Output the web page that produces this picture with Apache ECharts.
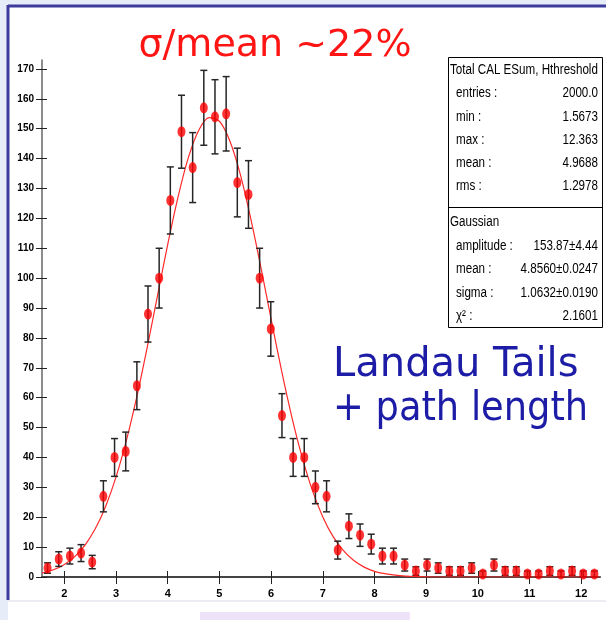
<!DOCTYPE html>
<html>
<head>
<meta charset="utf-8">
<script src="https://cdn.jsdelivr.net/npm/echarts@6/dist/echarts.min.js"></script>
<style>
html,body{margin:0;padding:0;background:#fff;}
#chart{width:606px;height:620px;}
</style>
</head>
<body>
<div id="chart"></div>
<script>
// Histogram bin centres (50 bins from 1.5673 to 12.363)
var binCenters = [1.675,1.891,2.107,2.323,2.539,2.755,2.971,3.187,3.403,3.618,
  3.834,4.050,4.266,4.482,4.698,4.914,5.130,5.346,5.562,5.778,
  5.994,6.210,6.426,6.641,6.857,7.073,7.289,7.505,7.721,7.937,
  8.153,8.369,8.585,8.801,9.017,9.232,9.448,9.664,9.880,10.096,
  10.312,10.528,10.744,10.960,11.176,11.392,11.608,11.823,12.039,12.255];
// Entries per bin
var binCounts = [3,6,7,8,5,27,40,42,64,88,
  100,126,149,137,157,154,155,132,128,100,
  83,54,40,40,30,27,9,17,14,11,
  7,7,4,2,4,3,2,2,3,1,
  4,2,2,1,1,2,1,2,1,1];
// Gaussian fit curve
var fitX = [1.5673,1.8,2.0,2.2,2.4,2.6,2.8,3.0,3.2,3.4,3.6,3.8,4.0,4.2,4.4,4.6,4.8,5.0,5.2,5.4,5.6,5.8,6.0,6.2,6.4,6.6,6.8,7.0,7.2,7.4,7.6,7.8,8.0,8.2,8.4,8.6,8.8,9.2,10.0,11.0,12.363];
var fitY = [1.3,2.5,4.2,6.8,10.7,16.2,23.7,33.5,45.7,60.2,76.6,94.0,111.3,127.2,140.4,149.5,153.7,152.5,146.0,135.0,120.4,103.8,86.3,69.2,53.6,40.1,28.9,20.1,13.5,8.8,5.5,3.3,1.9,1.1,0.6,0.3,0.15,0.0,0.0,0.0,0.0];
var xTicks = [2,3,4,5,6,7,8,9,10,11,12];
var yTicks = [0,10,20,30,40,50,60,70,80,90,100,110,120,130,140,150,160,170];
var xRange = [1.5673, 12.363];
var yRange = [0, 173];

var statTitle = 'Total CAL ESum, Hthreshold';
var statLabels = ['entries :','min :','max :','mean :','rms :'];
var statValues = ['2000.0','1.5673','12.363','4.9688','1.2978'];
var fitTitle = 'Gaussian';
var fitLabels = ['amplitude :','mean :','sigma :','\u03c7\u00b2 :'];
var fitValues = ['153.87\u00b14.44','4.8560\u00b10.0247','1.0632\u00b10.0190','2.1601'];

var titleText = '\u03c3/mean ~22%';
var noteLines = ['Landau Tails', '+ path length'];

var points = binCenters.map(function(x,i){return [x, binCounts[i]];});
var curve = fitX.map(function(x,i){return [x, fitY[i]];});

var chart = echarts.init(document.getElementById('chart'), null, {renderer:'canvas'});
var axFamily = '"Liberation Sans", Arial, sans-serif';
var statFont = '14px "Liberation Sans", Arial, sans-serif';
var sx = 0.83;

function stext(t, x, y, align){
  return {type:'text', z:62, x:x, y:y, scaleX:sx, scaleY:1,
    style:{text:t, x:0, y:0, textAlign:align || 'left', textVerticalAlign:'middle', fill:'#000', font:statFont}};
}

var graphics = [
  {type:'rect', z:-10, silent:true, shape:{x:0,y:0,width:606,height:620}, style:{fill:'#e6ecf8'}},
  {type:'rect', z:-9, silent:true, shape:{x:8,y:6,width:598,height:614}, style:{fill:'#ffffff'}},
  {type:'rect', z:-8, silent:true, shape:{x:200,y:612,width:210,height:8}, style:{fill:'#ede2f8'}},
  {type:'line', z:-8, silent:true, shape:{x1:8,y1:601,x2:606,y2:601}, style:{stroke:'#d8d8e4', lineWidth:1}},
  {type:'line', z:-7, silent:true, shape:{x1:8,y1:6,x2:606,y2:6}, style:{stroke:'#3c3c9c', lineWidth:3}},
  {type:'line', z:-7, silent:true, shape:{x1:8,y1:5,x2:8,y2:600}, style:{stroke:'#3c3c9c', lineWidth:3}},
  {type:'text', z:50, style:{text:titleText, x:275, y:65, textAlign:'center', textVerticalAlign:'bottom', fill:'#ff1414', font:'38px "DejaVu Sans"'}},
  {type:'text', z:50, style:{text:noteLines[0], x:333, y:346, textAlign:'left', textVerticalAlign:'top', fill:'#1c1ca6', font:'40px "DejaVu Sans"'}},
  {type:'text', z:50, x:333, y:390, scaleX:0.92, style:{text:noteLines[1], x:0, y:0, textAlign:'left', textVerticalAlign:'top', fill:'#1c1ca6', font:'40px "DejaVu Sans"'}},
  {type:'rect', z:60, shape:{x:448.5,y:57.5,width:154,height:270}, style:{fill:'#ffffff', stroke:'#000', lineWidth:1}},
  {type:'line', z:61, shape:{x1:448.5,y1:207.5,x2:602.5,y2:207.5}, style:{stroke:'#000', lineWidth:1}},
  stext(statTitle, 450, 70),
  stext(fitTitle, 450, 222)
];
var statY = [93,117,140,163,186];
statLabels.forEach(function(t,i){
  graphics.push(stext(t, 456, statY[i]));
  graphics.push(stext(statValues[i], 598, statY[i], 'right'));
});
var fitYpos = [246,269,293,316];
fitLabels.forEach(function(t,i){
  graphics.push(stext(t, 456, fitYpos[i]));
  graphics.push(stext(fitValues[i], 598, fitYpos[i], 'right'));
});

var option = {
  animation:false,
  backgroundColor:'transparent',
  grid:{left:42, right:6, top:60, bottom:43, containLabel:false},
  xAxis:[{
    type:'value', min:xRange[0], max:xRange[1],
    axisLine:{show:true, onZero:false, lineStyle:{color:'#444', width:2}},
    axisTick:{show:true, inside:false, length:7, customValues:xTicks, lineStyle:{color:'#222', width:1}},
    axisLabel:{show:true, customValues:xTicks, margin:11, formatter:function(v){return String(v);}, color:'#000', fontFamily:axFamily, fontSize:11, fontWeight:'bold'},
    splitLine:{show:false}
  },{
    type:'value', min:xRange[0], max:xRange[1], position:'bottom',
    axisLine:{show:false},
    axisTick:{show:true, inside:true, length:6, customValues:xTicks, lineStyle:{color:'#222', width:1}},
    axisLabel:{show:false}, splitLine:{show:false}
  }],
  yAxis:[{
    type:'value', min:yRange[0], max:yRange[1],
    axisLine:{show:true, onZero:false, lineStyle:{color:'#666', width:1.5}},
    axisTick:{show:true, inside:false, length:6, customValues:yTicks, lineStyle:{color:'#222', width:1}},
    axisLabel:{show:true, customValues:yTicks, margin:8, formatter:function(v){return String(v);}, color:'#000', fontFamily:axFamily, fontSize:10, fontWeight:'bold'},
    splitLine:{show:false}
  },{
    type:'value', min:yRange[0], max:yRange[1], position:'left',
    axisLine:{show:false},
    axisTick:{show:true, inside:true, length:5, customValues:yTicks, lineStyle:{color:'#222', width:1}},
    axisLabel:{show:false}, splitLine:{show:false}
  }],
  graphic:graphics,
  series:[
    {
      type:'line', data:curve, smooth:0.3, showSymbol:false, symbol:'none', clip:true,
      lineStyle:{color:'#ff2a2a', width:1.2}, z:3
    },
    {
      type:'custom', data:points, z:4, clip:false,
      renderItem:function(params, api){
        var x = api.value(0), v = api.value(1);
        var e = Math.sqrt(v);
        var lo = Math.max(0, v - e);
        var hi = api.coord([x, v + e]);
        var lw = api.coord([x, lo]);
        var hw = 3.5;
        var st = {stroke:'#262626', lineWidth:1.5};
        return {type:'group', children:[
          {type:'line', shape:{x1:hi[0], y1:hi[1], x2:lw[0], y2:lw[1]}, style:st},
          {type:'line', shape:{x1:hi[0]-hw, y1:hi[1], x2:hi[0]+hw, y2:hi[1]}, style:st},
          {type:'line', shape:{x1:lw[0]-hw, y1:lw[1], x2:lw[0]+hw, y2:lw[1]}, style:st}
        ]};
      },
      encode:{x:0, y:1}
    },
    {
      type:'scatter', data:points, symbol:'circle', symbolSize:[8,11], z:5,
      itemStyle:{color:'#ff0000'}
    }
  ]
};
chart.setOption(option);
</script>
</body>
</html>
